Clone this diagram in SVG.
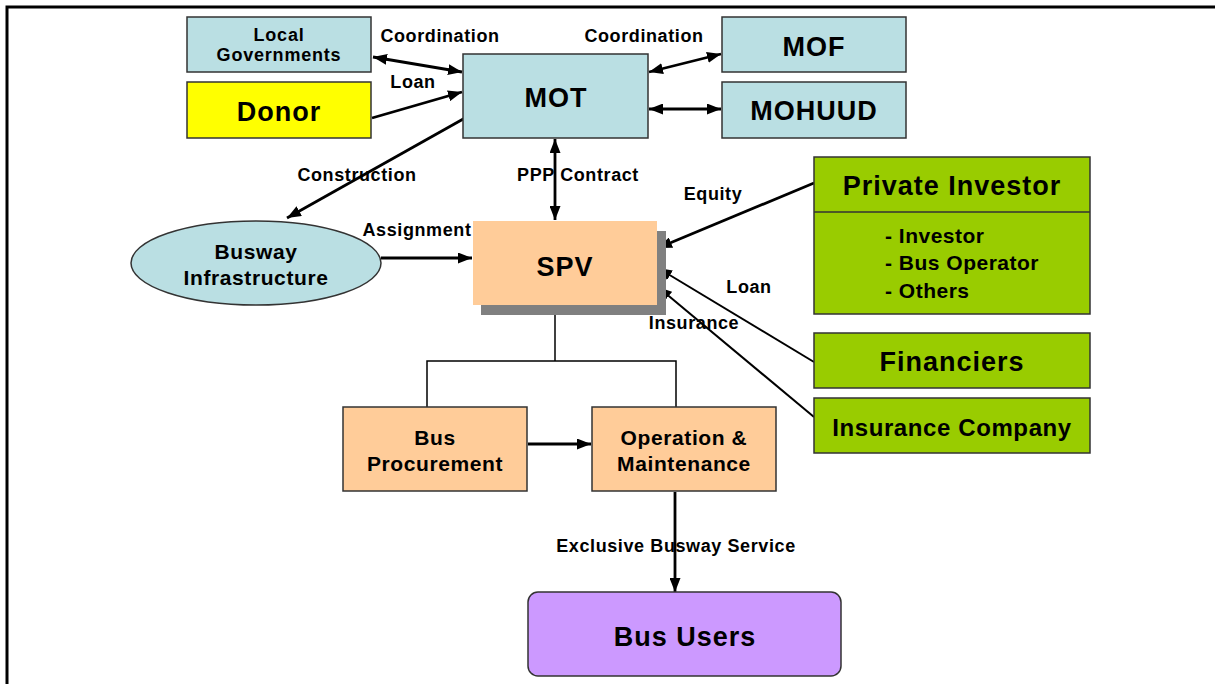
<svg xmlns="http://www.w3.org/2000/svg" width="1215" height="684" viewBox="0 0 1215 684">
  <style>
    text { font-family: "Liberation Sans", Arial, sans-serif; font-weight: bold; fill: #000; text-anchor: middle; }
    .lbl { font-size: 18px; letter-spacing: 0.6px; }
    .sm { font-size: 18px; letter-spacing: 0.8px; }
    .md { font-size: 21px; letter-spacing: 0.6px; }
    .lg { font-size: 27px; letter-spacing: 1px; }
    .list { font-size: 21px; letter-spacing: 0.5px; text-anchor: start; }
    .box { stroke: #333; stroke-width: 1.5; }
    .blue { fill: #BADFE3; }
    .yellow { fill: #FFFF00; }
    .peach { fill: #FFCC99; }
    .green { fill: #99CC00; }
    .purple { fill: #CC99FF; }
    .conn { stroke: #000; fill: none; }
    .thick { stroke-width: 2.8; }
    .thin { stroke-width: 2; }
    .plain { stroke: #000; stroke-width: 1.5; fill: none; }
  </style>
  <defs>
    <marker id="arrow" markerUnits="userSpaceOnUse" markerWidth="15" markerHeight="11" refX="14" refY="5.5" orient="auto-start-reverse">
      <path d="M0,0 L14,5.5 L0,11 z" fill="#000"/>
    </marker>
  </defs>

  <rect width="1215" height="684" fill="#fff"/>
  <!-- page frame -->
  <rect x="7" y="7" width="1230" height="700" fill="none" stroke="#000" stroke-width="3"/>

  <!-- connectors -->
  <g id="connectors">
    <line class="conn thick" x1="373" y1="57" x2="462" y2="72" marker-start="url(#arrow)" marker-end="url(#arrow)"/>
    <line class="conn thick" x1="372" y1="118" x2="462" y2="92" marker-end="url(#arrow)"/>
    <line class="conn thick" x1="465" y1="118" x2="287" y2="218" marker-end="url(#arrow)"/>
    <line class="conn thick" x1="649" y1="72" x2="721" y2="54" marker-start="url(#arrow)" marker-end="url(#arrow)"/>
    <line class="conn thick" x1="649" y1="109" x2="721" y2="109" marker-start="url(#arrow)" marker-end="url(#arrow)"/>
    <line class="conn thick" x1="555" y1="139" x2="555" y2="220" marker-start="url(#arrow)" marker-end="url(#arrow)"/>
    <line class="conn thick" x1="381" y1="258" x2="472" y2="258" marker-end="url(#arrow)"/>
    <line class="conn thick" x1="814" y1="183" x2="658" y2="248" marker-end="url(#arrow)"/>
    <line class="conn thin" x1="814" y1="362" x2="658" y2="268" marker-end="url(#arrow)"/>
    <line class="conn thin" x1="814" y1="417" x2="658" y2="287" marker-end="url(#arrow)"/>
    <polyline class="plain" points="555,305 555,361"/>
    <polyline class="plain" points="427,407 427,361 676,361 676,407"/>
    <line class="conn thick" x1="528" y1="444" x2="591" y2="444" marker-end="url(#arrow)"/>
    <line class="conn thick" x1="675" y1="492" x2="675" y2="592" marker-end="url(#arrow)"/>

    <text class="lbl" x="440" y="42">Coordination</text>
    <text class="lbl" x="413" y="88">Loan</text>
    <text class="lbl" x="644" y="42">Coordination</text>
    <text class="lbl" x="357" y="181">Construction</text>
    <text class="lbl" x="578" y="181">PPP Contract</text>
    <text class="lbl" x="417" y="236">Assignment</text>
    <text class="lbl" x="713" y="200">Equity</text>
    <text class="lbl" x="749" y="293">Loan</text>
    <text class="lbl" x="694" y="329">Insurance</text>
    <text class="lbl" x="676" y="552">Exclusive Busway Service</text>
  </g>

  <g id="local-governments">
    <rect class="box blue" x="187" y="17" width="184" height="55"/>
    <text class="sm" x="279" y="41">Local</text>
    <text class="sm" x="279" y="61">Governments</text>
  </g>
  <g id="donor">
    <rect class="box yellow" x="187" y="82" width="184" height="56"/>
    <text class="lg" x="279" y="121">Donor</text>
  </g>
  <g id="mot">
    <rect class="box blue" x="463" y="54" width="185" height="84"/>
    <text class="lg" x="556" y="107">MOT</text>
  </g>
  <g id="mof">
    <rect class="box blue" x="722" y="17" width="184" height="55"/>
    <text class="lg" x="814" y="56">MOF</text>
  </g>
  <g id="mohuud">
    <rect class="box blue" x="722" y="82" width="184" height="56"/>
    <text class="lg" x="814" y="120">MOHUUD</text>
  </g>
  <g id="busway-infrastructure">
    <ellipse class="box blue" cx="256" cy="263" rx="125" ry="42"/>
    <text class="md" x="256" y="259">Busway</text>
    <text class="md" x="256" y="285">Infrastructure</text>
  </g>
  <g id="spv">
    <rect x="481" y="231" width="185" height="84" fill="#808080"/>
    <rect class="peach" x="473" y="221" width="184" height="84"/>
    <text class="lg" x="565" y="276">SPV</text>
  </g>
  <g id="private-investor">
    <rect class="box green" x="814" y="157" width="276" height="157"/>
    <line x1="814" y1="212" x2="1090" y2="212" stroke="#333" stroke-width="1.5"/>
    <text class="lg" x="952" y="195">Private Investor</text>
    <text class="list" x="885" y="243">- Investor</text>
    <text class="list" x="885" y="270">- Bus Operator</text>
    <text class="list" x="885" y="298">- Others</text>
  </g>
  <g id="financiers">
    <rect class="box green" x="814" y="333" width="276" height="55"/>
    <text class="lg" x="952" y="371">Financiers</text>
  </g>
  <g id="insurance-company">
    <rect class="box green" x="814" y="398" width="276" height="55"/>
    <text class="md" x="952" y="436" style="font-size:24px">Insurance Company</text>
  </g>
  <g id="bus-procurement">
    <rect class="box peach" x="343" y="407" width="184" height="84"/>
    <text class="md" x="435" y="445">Bus</text>
    <text class="md" x="435" y="471">Procurement</text>
  </g>
  <g id="operation-maintenance">
    <rect class="box peach" x="592" y="407" width="184" height="84"/>
    <text class="md" x="684" y="445">Operation &amp;</text>
    <text class="md" x="684" y="471">Maintenance</text>
  </g>
  <g id="bus-users">
    <rect class="box purple" x="528" y="592" width="313" height="84" rx="10" ry="10"/>
    <text class="lg" x="685" y="646">Bus Users</text>
  </g>
</svg>
